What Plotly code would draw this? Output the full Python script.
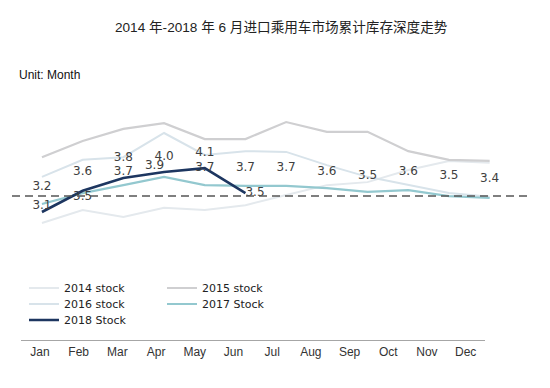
import plotly.graph_objects as go

months = ["Jan", "Feb", "Mar", "Apr", "May", "Jun", "Jul", "Aug", "Sep", "Oct", "Nov", "Dec"]

stock_2014 = [2.25, 2.59, 2.41, 2.65, 2.59, 2.72, 2.99, 3.25, 3.33, 3.65, 3.89, 3.84]
stock_2015 = [3.99, 4.42, 4.74, 4.89, 4.47, 4.47, 4.92, 4.66, 4.66, 4.15, 3.92, 3.89]
stock_2016 = [3.47, 3.92, 3.99, 4.63, 4.05, 4.15, 4.13, 3.78, 3.47, 3.25, 3.04, 2.94]
stock_2017 = [2.75, 3.04, 3.25, 3.47, 3.25, 3.23, 3.23, 3.17, 3.07, 3.12, 2.96, 2.91]
stock_2018 = [2.54, 3.10, 3.44, 3.60, 3.70, 3.04]

labels_2018 = ["3.1", "3.5", "3.7", "3.9", "3.7", "3.5"]
label_values = [3.2, 3.6, 3.8, 4.0, 4.1, 3.7, 3.7, 3.6, 3.5, 3.6, 3.5, 3.4]
reference_level = 2.96

label_font = dict(family="DejaVu Sans", size=12, color="#404040")
legend_font = dict(family="DejaVu Sans", size=11, color="#222222")

fig = go.Figure()

def add_line(name, values, color, width, legend):
    fig.add_trace(go.Scatter(x=months[:len(values)], y=values, name=name, mode="lines",
                             line=dict(color=color, width=width), legend=legend,
                             hoverinfo="skip"))

add_line("2014 stock", stock_2014, "#e4e9ed", 2, "legend")
add_line("2015 stock", stock_2015, "#cfcfd1", 2.2, "legend2")
add_line("2016 stock", stock_2016, "#d8e3ea", 2, "legend3")
add_line("2017 Stock", stock_2017, "#93c8cf", 2.2, "legend4")

fig.add_trace(go.Scatter(
    x=months[:len(stock_2018)], y=stock_2018, name="2018 Stock", mode="lines+text",
    line=dict(color="#1d3660", width=2.6), legend="legend5",
    text=labels_2018,
    textposition=["top center", "bottom center", "top center", "top left", "middle center", "middle right"],
    textfont=label_font, hoverinfo="skip"))

label_positions = ["middle center"] * len(label_values)
label_positions[2] = "top center"
fig.add_trace(go.Scatter(
    x=months, y=label_values, mode="text", text=[f"{v:.1f}" for v in label_values],
    textposition=label_positions, textfont=label_font, showlegend=False, hoverinfo="skip"))

# month axis (tick labels) drawn on a second x axis with its own extent
fig.add_trace(go.Scatter(x=months, y=[None] * len(months), xaxis="x2", showlegend=False,
                         hoverinfo="skip"))

fig.add_shape(type="line", xref="paper", yref="y", x0=12 / 550, x1=527 / 550,
              y0=reference_level, y1=reference_level,
              line=dict(color="#555555", width=1.5, dash="8px,5px"))

def leg(xpx, ypx):
    return dict(x=xpx / 550, y=1 - ypx / 388, xanchor="left", yanchor="middle",
                bgcolor="rgba(0,0,0,0)", itemwidth=30, font=legend_font, borderwidth=0)

fig.update_layout(
    width=550, height=388,
    paper_bgcolor="white", plot_bgcolor="rgba(0,0,0,0)",
    margin=dict(l=0, r=0, t=0, b=0, autoexpand=False),
    xaxis=dict(type="category", categoryorder="array", categoryarray=months,
               range=[-0.5, 11.5], domain=[21.6 / 550, 510 / 550],
               showticklabels=False, showline=False, showgrid=False, zeroline=False,
               ticks="", automargin=False),
    xaxis2=dict(type="category", categoryorder="array", categoryarray=months,
                range=[-0.5, 11.5], domain=[20.6 / 550, 485 / 550], anchor="y",
                automargin=False,
                showline=True, linecolor="#a6a6a6", linewidth=1.2, showgrid=False,
                zeroline=False, ticks="", ticklen=0,
                tickfont=dict(family="Liberation Sans", size=12, color="#333333")),
    yaxis=dict(range=[-0.847, 5.503], domain=[48 / 388, 288 / 388],
               showticklabels=False, showline=False, showgrid=False, zeroline=False,
               ticks="", automargin=False),
    legend=leg(24, 288),
    legend2=leg(162, 288),
    legend3=leg(24, 304),
    legend4=leg(162, 304),
    legend5=leg(24, 320),
    annotations=[
        dict(text="2014 年-2018 年 6 月进口乘用车市场累计库存深度走势",
             x=281 / 550, y=1 - 27 / 388, xref="paper", yref="paper",
             xanchor="center", yanchor="middle", showarrow=False,
             font=dict(family="Liberation Sans, Noto Sans CJK SC", size=13.6, color="#222222")),
        dict(text="Unit: Month", x=17 / 550, y=1 - 75 / 388, xref="paper", yref="paper",
             xanchor="left", yanchor="middle", showarrow=False,
             font=dict(family="Liberation Sans", size=12, color="#111111")),
    ],
)

fig.write_html("out.html", config={"displayModeBar": False},
               post_script="document.body.style.margin='0';")
